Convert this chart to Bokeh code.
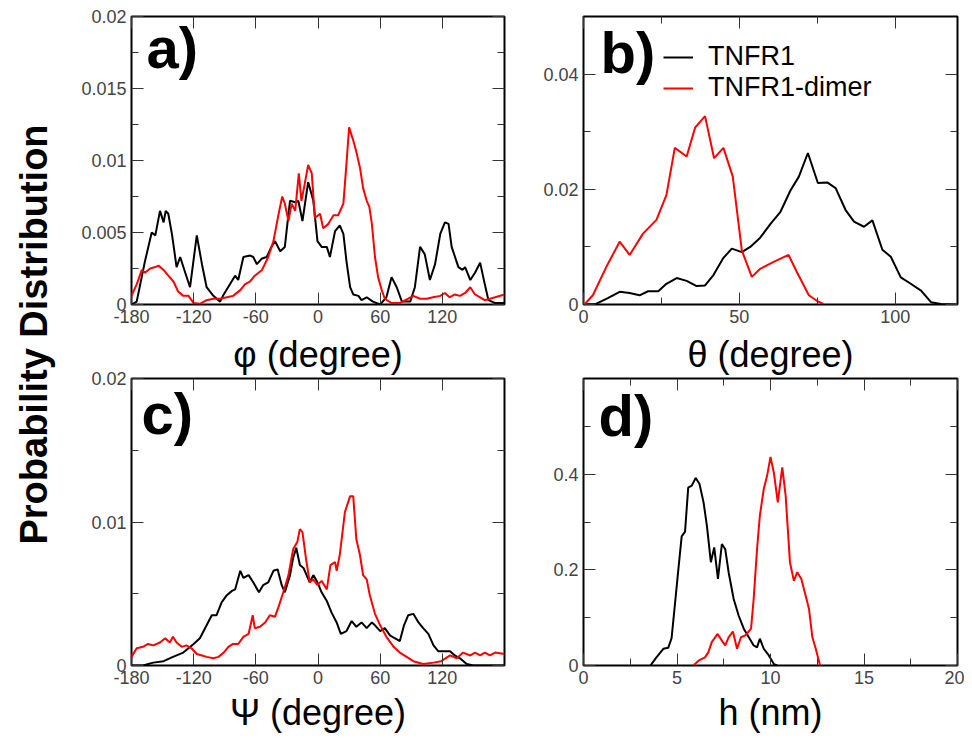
import math
from bokeh.plotting import figure
from bokeh.models import (Range1d, FixedTicker, LinearAxis, CustomJSTickFormatter,
                          Label, Legend, LegendItem)
from bokeh.layouts import row, column
from bokeh.embed import file_html
from bokeh.resources import INLINE

FONT = "Liberation Sans"

# ---------------- data ----------------
# panel a: phi (degree)
a_black_x = [-180, -175, -167, -160.5, -157, -152.5, -149, -147, -144.5, -141, -136.5, -133, -129,
             -123.5, -117, -112, -107.5, -101, -94.5, -91, -85, -80, -77, -72, -65.5, -62.5, -59,
             -54, -49.5, -45, -41.5, -36.5, -32, -28.5, -27, -22, -19, -15, -9.5, -4.5, -0.5, 3.5,
             8.5, 11.5, 16.5, 21, 24.5, 27.5, 31, 34, 39, 42, 47, 53, 60, 66, 71, 76, 81, 89, 93.5,
             98.5, 103, 108, 113, 118, 122.5, 126, 129, 135.5, 139.5, 142, 147, 151.5, 156.5, 161,
             164.5, 171, 180]
a_black_y = [0, 0.0002, 0.003, 0.005, 0.0048, 0.0065, 0.0057, 0.0065, 0.0063, 0.0049, 0.0026, 0.0033,
             0.0024, 0.0012, 0.0048, 0.0028, 0.0012, 0.0006, 0.0002, 0.0007, 0.0014, 0.002, 0.0017,
             0.0033, 0.0034, 0.0033, 0.0028, 0.0032, 0.0033, 0.004, 0.0044, 0.0037, 0.004, 0.0063,
             0.0072, 0.0071, 0.0072, 0.0058, 0.0085, 0.0072, 0.0044, 0.004, 0.004, 0.0033, 0.0051,
             0.0055, 0.0049, 0.003, 0.0012, 0.0007, 0.0006, 0.0003, 0.0005, 0.0002, 0, 0.0005,
             0.0019, 0.0012, 0.0002, 0.0002, 0.0012, 0.004, 0.0035, 0.0017, 0.0028, 0.0049, 0.0057,
             0.0056, 0.004, 0.0026, 0.0024, 0.0026, 0.0017, 0.0022, 0.0029, 0.0014, 0.0003, 0.0001,
             0.0001]
a_red_x = [-180, -175, -170, -167, -162, -157, -154, -149, -144.5, -139.5, -135, -130, -125, -120,
           -114, -107.5, -101, -94.5, -88, -82, -75, -70.5, -65.5, -61, -54, -48, -43, -38, -34.5,
           -32, -28.5, -25.5, -22, -18.5, -16, -13.5, -9.5, -6, -3, 2, 5, 10, 15, 19.5, 24.5, 27.5,
           30, 34, 37, 40.5, 43.5, 47, 49.5, 52, 55, 58, 61.5, 64.5, 71, 79, 87, 92, 98.5, 105, 111,
           118, 122.5, 127, 132, 137, 142, 147, 151.5, 156.5, 161, 166, 171, 180]
a_red_y = [0.0006, 0.0014, 0.0024, 0.0022, 0.0025, 0.0026, 0.0027, 0.0024, 0.002, 0.0016, 0.0009,
           0.0006, 0.0006, 0.0001, 0.00005, 0.0003, 0.0004, 0.0004, 0.0005, 0.0006, 0.001, 0.0014,
           0.0016, 0.002, 0.0024, 0.0033, 0.0044, 0.0063, 0.0075, 0.007, 0.0058, 0.007, 0.0065,
           0.0091, 0.0072, 0.0081, 0.0097, 0.0091, 0.006, 0.0063, 0.0053, 0.0056, 0.0062, 0.0062,
           0.007, 0.0098, 0.0123, 0.0114, 0.0106, 0.0095, 0.0081, 0.0072, 0.0068, 0.0056, 0.0033,
           0.0019, 0.001, 0.0004, 0.0001, 0.0001, 0.0004, 0.0006, 0.0004, 0.0004, 0.0005, 0.0006,
           0.0008, 0.0005, 0.0007, 0.0006, 0.0008, 0.0012, 0.0007, 0.0005, 0.0003, 0.0004, 0.0005,
           0.0007]

# panel b: theta (degree)
b_black_x = [0, 4, 7.8, 11.6, 14.8, 18, 20.7, 24, 26.6, 29.9, 33.1, 36.3, 39, 41.7, 44.9, 47.6, 50.8,
             53.5, 56.7, 60, 63.2, 66.4, 69.1, 72, 75.2, 78.2, 80.9, 84.1, 86.8, 90, 92.7, 95.9, 98.6,
             101.8, 105, 108.3, 111.5, 114.7, 119.5]
b_black_y = [0, 0.0001, 0.0011, 0.0022, 0.002, 0.0016, 0.0023, 0.0023, 0.0036, 0.0046, 0.0041, 0.0032,
             0.0033, 0.0051, 0.0081, 0.0097, 0.0091, 0.01, 0.0116, 0.014, 0.0161, 0.0198, 0.0222,
             0.0263, 0.0211, 0.0212, 0.0202, 0.0164, 0.0144, 0.0135, 0.0146, 0.0095, 0.0083, 0.0047,
             0.0036, 0.0024, 0.0004, 0.0001, 0]
b_red_x = [0.3, 3, 7.3, 11.6, 14.8, 19.1, 23.4, 26.6, 29.3, 33.1, 35.8, 39, 41.9, 44.9, 47.9, 50.8,
           54, 56.7, 61, 65.8, 68.5, 72.3, 75, 77]
b_red_y = [0, 0.0016, 0.0065, 0.0109, 0.0086, 0.0123, 0.0147, 0.019, 0.0272, 0.0257, 0.0307, 0.0327,
           0.0254, 0.0272, 0.0222, 0.0094, 0.0048, 0.0062, 0.0074, 0.0086, 0.0056, 0.0016, 0.0006,
           0.0001]

# panel c: psi (degree)
c_black_x = [-180, -169, -159, -149, -140, -130, -120, -114, -107.5, -102.5, -98, -93, -88, -83, -80,
             -75, -72, -67, -62.5, -57, -53, -48, -43, -39, -35, -32, -27, -24, -21, -17.5, -14, -11,
             -8, -4.5, -0.5, 3.5, 8.5, 13, 18, 22, 27.5, 32.5, 37, 42, 47, 52, 55, 60, 64.5, 69.5, 74,
             79, 83, 87, 92, 97, 101.5, 106.5, 111.5, 116, 121, 127.5, 132, 137, 143.5, 150, 180]
c_black_y = [0, 0, 0.0002, 0.0003, 0.0006, 0.0009, 0.0015, 0.0019, 0.0028, 0.0035, 0.0035, 0.0044,
             0.0049, 0.0052, 0.0053, 0.0066, 0.0061, 0.0063, 0.0058, 0.0051, 0.0056, 0.0058, 0.0066,
             0.0067, 0.0056, 0.0051, 0.0063, 0.0075, 0.0082, 0.007, 0.0068, 0.0063, 0.0058, 0.0063,
             0.0058, 0.0051, 0.0045, 0.0037, 0.003, 0.0022, 0.0024, 0.0031, 0.0027, 0.003, 0.0026,
             0.003, 0.0028, 0.0024, 0.0026, 0.0021, 0.0019, 0.0017, 0.0028, 0.0035, 0.0036, 0.003,
             0.0026, 0.0022, 0.0014, 0.001, 0.001, 0.001, 0.0007, 0.0005, 0.0001, 0, 0]
c_red_x = [-180, -175, -169, -164, -159, -152.5, -147.5, -143, -140, -136.5, -131.5, -127, -122, -117,
           -112, -107.5, -101, -96, -91, -86.5, -82, -77, -72, -67, -63, -61, -56, -51, -46.5, -41.5,
           -38, -33.5, -28.5, -24, -20, -17.5, -15, -11.5, -8, -4.5, -0.5, 3.5, 8.5, 12, 16.5, 18, 21,
           26, 31, 34, 37, 40.5, 43.5, 47, 50, 55, 60, 66, 73, 79, 85.5, 92, 101.5, 111.5, 119, 127.5,
           134, 140, 147, 151.5, 156.5, 161, 166, 171, 180]
c_red_y = [0.0006, 0.0012, 0.0013, 0.0015, 0.0014, 0.0016, 0.0019, 0.0016, 0.002, 0.0016, 0.0013,
           0.0014, 0.0012, 0.0008, 0.0007, 0.0006, 0.0005, 0.0006, 0.0009, 0.0013, 0.0015, 0.0015,
           0.002, 0.0022, 0.0035, 0.0026, 0.0027, 0.003, 0.0035, 0.0034, 0.0041, 0.0051, 0.0063,
           0.0081, 0.0086, 0.0095, 0.0093, 0.0074, 0.0058, 0.006, 0.0056, 0.0059, 0.0053, 0.007,
           0.0072, 0.0066, 0.0077, 0.0107, 0.0118, 0.0118, 0.0088, 0.0077, 0.0063, 0.006, 0.0049,
           0.0036, 0.0028, 0.002, 0.0013, 0.0009, 0.0006, 0.0003, 0.0001, 0.0002, 0.0003, 0.0007,
           0.0005, 0.0009, 0.0007, 0.0009, 0.0007, 0.0009, 0.0007, 0.0009, 0.0008]

# panel d: h (nm)
d_black_x = [3.58, 3.9, 4.27, 4.53, 4.71, 4.9, 5.07, 5.25, 5.43, 5.6, 5.79, 6.0, 6.2, 6.42, 6.6, 6.81,
             6.99, 7.19, 7.4, 7.58, 7.76, 8.03, 8.3, 8.57, 8.84, 9.1, 9.28, 9.43, 9.64, 9.91, 10.18,
             10.36]
d_black_y = [0, 0.017, 0.035, 0.037, 0.057, 0.132, 0.2, 0.27, 0.28, 0.372, 0.376, 0.392, 0.38, 0.341,
             0.292, 0.216, 0.247, 0.181, 0.254, 0.243, 0.195, 0.139, 0.104, 0.077, 0.059, 0.042,
             0.038, 0.056, 0.035, 0.021, 0.003, 0]
d_red_x = [5.88, 6.15, 6.5, 6.68, 6.86, 7.17, 7.4, 7.58, 7.76, 7.99, 8.21, 8.42, 8.66, 8.96, 9.1, 9.28,
           9.43, 9.64, 9.82, 10.0, 10.18, 10.39, 10.63, 10.81, 11.04, 11.25, 11.43, 11.65, 11.88,
           12.06, 12.24, 12.42, 12.65]
d_red_y = [0, 0.01, 0.017, 0.028, 0.049, 0.066, 0.052, 0.042, 0.059, 0.071, 0.035, 0.059, 0.063,
           0.077, 0.139, 0.243, 0.313, 0.369, 0.397, 0.436, 0.403, 0.341, 0.414, 0.355, 0.216, 0.177,
           0.195, 0.181, 0.146, 0.118, 0.059, 0.035, 0]

series_names = ["TNFR1", "TNFR1-dimer"]
x_titles = ["φ (degree)", "θ (degree)", "Ψ (degree)", "h (nm)"]
y_title = "Probability Distribution"

deg_ticks = [-180, -120, -60, 0, 60, 120]
b_xticks, b_xminor = [0, 50, 100], [25, 75]
d_xticks, d_xminor = [0, 5, 10, 15, 20], [2.5, 7.5, 12.5, 17.5]
a_yticks, a_yminor = [0, 0.005, 0.01, 0.015, 0.02], [0.0025, 0.0075, 0.0125, 0.0175]
b_yticks, b_yminor = [0, 0.02, 0.04], [0.01, 0.03]
c_yticks, c_yminor = [0, 0.01, 0.02], [0.005, 0.015]
d_yticks, d_yminor = [0, 0.2, 0.4], [0.1, 0.3, 0.5]

fmt = CustomJSTickFormatter(code="return String(parseFloat(tick.toFixed(6)));")


def style_title(ax, text, standoff):
    ax.axis_label = text
    ax.axis_label_text_font = FONT
    ax.axis_label_text_font_size = "36px"
    ax.axis_label_text_font_style = "normal"
    ax.axis_label_text_color = "black"
    ax.axis_label_standoff = standoff


def panel(xr, yr, xt, xm, yt, ym, fw, fh, bl, br, bt, bb, tag, tag_x, tag_y,
          below_title=None, below_std=0, above_title=None, above_std=0):
    p = figure(frame_width=fw, frame_height=fh, x_range=Range1d(*xr), y_range=Range1d(*yr),
               output_backend="svg", toolbar_location=None,
               x_axis_location=None, y_axis_location=None,
               min_border_left=bl, min_border_right=br, min_border_top=bt, min_border_bottom=bb)
    p.grid.visible = False
    p.outline_line_color = "black"
    p.outline_line_width = 2
    p.outline_line_alpha = 1
    p.background_fill_color = "white"
    p.border_fill_color = "white"
    for side in ("below", "above", "left", "right"):
        if side in ("below", "above"):
            ticks, minor = xt, xm
        else:
            ticks, minor = yt, ym
        ax = LinearAxis(ticker=FixedTicker(ticks=ticks, minor_ticks=minor), formatter=fmt)
        ax.axis_line_color = None
        ax.major_tick_in = 12
        ax.major_tick_out = 0
        ax.minor_tick_in = 7
        ax.minor_tick_out = 0
        ax.major_tick_line_color = "#333333"
        ax.minor_tick_line_color = "#333333"
        if side in ("below", "left"):
            ax.major_label_text_font = FONT
            ax.major_label_text_font_size = "18px"
            ax.major_label_text_color = "#444444"
            ax.major_label_standoff = 5
        else:
            ax.major_label_text_font_size = "1px"
            ax.major_label_text_color = None
            ax.major_label_standoff = 0
        if side == "below" and below_title:
            style_title(ax, below_title, below_std)
        if side == "above" and above_title:
            style_title(ax, above_title, above_std)
        p.add_layout(ax, side)
    p.add_layout(Label(x=tag_x, y=tag_y, x_units="screen", y_units="screen", text=tag,
                       text_font=FONT, text_font_style="bold", text_font_size="58px",
                       text_color="black", text_baseline="middle", text_align="left"))
    return p


# row 1 (axis titles of row 1 are carried by the row-2 panels' top axes)
pa = panel((-180, 180), (0, 0.02), deg_ticks, [], a_yticks, a_yminor,
           373, 288, 63, 31, 16, 26, "a)", 15, 257)
pa.line(a_black_x, a_black_y, line_color="black", line_width=2)
pa.line(a_red_x, a_red_y, line_color="#ff0000", line_width=2)

pb = panel((0, 120), (0, 0.05), b_xticks, b_xminor, b_yticks, b_yminor,
           374, 288, 48, 7, 16, 26, "b)", 17, 252)
rb = pb.line(b_black_x, b_black_y, line_color="black", line_width=2)
rr = pb.line(b_red_x, b_red_y, line_color="#ff0000", line_width=2)
for item_label, rend, ypos in ((series_names[0], rb, 232), (series_names[1], rr, 201)):
    leg = Legend(items=[LegendItem(label=item_label, renderers=[rend])],
                 location=(80, ypos), border_line_color=None, background_fill_alpha=0,
                 padding=0, margin=0, spacing=0, glyph_width=30, glyph_height=30,
                 label_height=30, label_standoff=15, label_text_font=FONT,
                 label_text_font_size="27px", label_text_color="black")
    pb.add_layout(leg)

# row 2
pc = panel((-180, 180), (0, 0.02), deg_ticks, [], c_yticks, c_yminor,
           373, 287, 63, 31, 46, 70, "c)", 10, 252,
           below_title=x_titles[2], below_std=5, above_title=x_titles[0], above_std=4)
pc.line(c_black_x, c_black_y, line_color="black", line_width=2)
pc.line(c_red_x, c_red_y, line_color="#ff0000", line_width=2)

pd = panel((0, 20), (0, 0.6), d_xticks, d_xminor, d_yticks, d_yminor,
           374, 287, 48, 7, 46, 70, "d)", 15, 250,
           below_title=x_titles[3], below_std=5, above_title=x_titles[1], above_std=4)
pd.line(d_black_x, d_black_y, line_color="black", line_width=2)
pd.line(d_red_x, d_red_y, line_color="#ff0000", line_width=2)

lab = figure(width=68, height=733, output_backend="svg", toolbar_location=None,
             x_axis_location=None, y_axis_location=None, min_border=0,
             x_range=Range1d(0, 1), y_range=Range1d(0, 1))
lab.outline_line_color = None
lab.grid.visible = False
lab.add_layout(Label(x=33, y=399, x_units="screen", y_units="screen",
                     text=y_title, angle=math.pi / 2,
                     text_align="center", text_baseline="middle", text_font=FONT,
                     text_font_style="bold", text_font_size="38px", text_color="black"))

layout = row(lab, column(row(pa, pb), row(pc, pd)))

open("out.html", "w").write(file_html(layout, INLINE))
